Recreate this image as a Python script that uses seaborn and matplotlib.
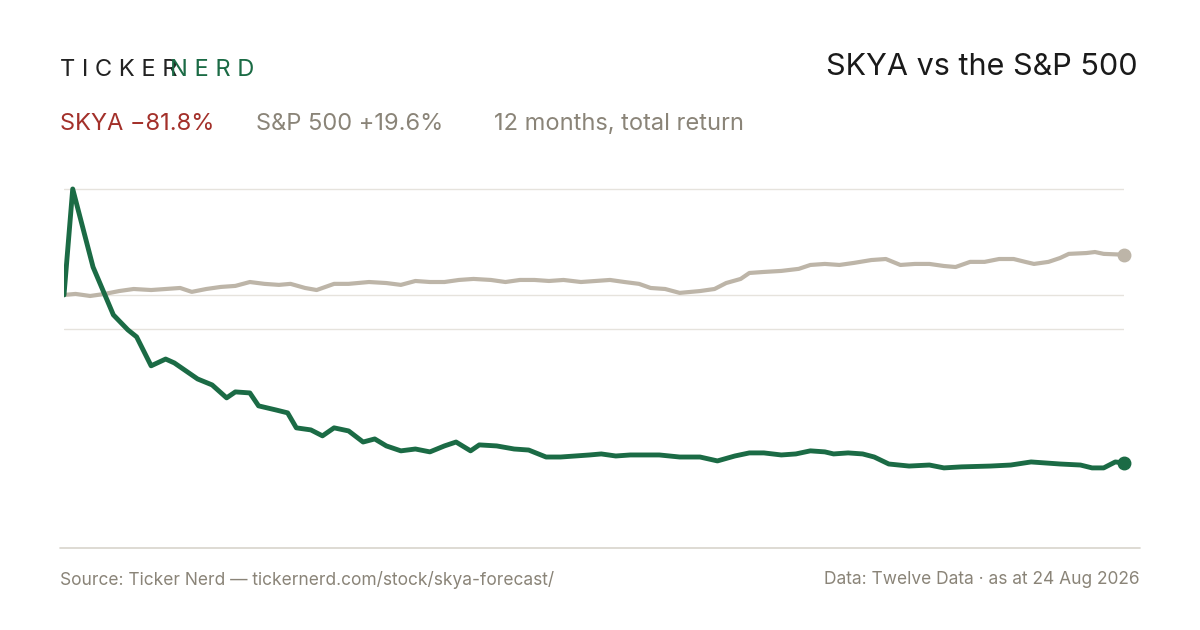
import matplotlib
matplotlib.use("Agg")
import matplotlib.pyplot as plt
import seaborn as sns
import pandas as pd
from matplotlib.lines import Line2D

sns.set_theme(style="white")
plt.rcParams['font.family'] = ['Inter', 'DejaVu Sans']

skya_day = [0,3,10,17,22,25,30,35,38,42,46,51,56,59,64,67,73,77,80,85,89,93,98,103,107,111,116,121,126,131,
            135,140,143,149,155,160,166,171,176,181,185,190,195,200,205,212,219,225,231,236,241,247,252,257,262,265,270,275,279,284,
            291,298,303,309,319,326,333,338,343,350,354,358,362,365]
skya_pct = [0,51.6,13.6,-9.7,-17.0,-20.4,-34.5,-31.2,-33.1,-37.0,-40.9,-43.8,-50.1,-47.2,-47.7,-54.0,-56.0,-57.4,-64.7,-65.7,
            -68.6,-64.7,-66.2,-71.6,-70.1,-73.5,-75.9,-75.0,-76.4,-73.5,-71.6,-75.9,-73.0,-73.5,-75.0,-75.5,-78.9,-78.9,-78.4,-77.9,
            -77.4,-78.4,-77.9,-77.9,-77.9,-78.9,-78.9,-80.8,-78.4,-76.9,-76.9,-77.9,-77.4,-75.9,-76.4,-77.4,-76.9,-77.4,-78.9,-82.3,
            -83.3,-82.8,-84.2,-83.7,-83.3,-82.8,-81.3,-81.8,-82.3,-82.8,-84.2,-84.2,-81.3,-81.8]
spx_day = [0,4,9,14,19,24,30,35,40,44,49,54,59,64,69,74,78,83,87,93,98,105,111,116,121,126,131,136,141,147,
           152,157,162,167,172,178,183,188,193,198,202,207,212,219,224,228,233,236,241,247,253,257,262,267,272,278,283,288,293,298,
           303,307,312,317,322,327,331,334,339,343,346,352,355,358,365]
spx_pct = [0,.5,-.5,.5,1.9,2.9,2.4,2.9,3.4,1.5,2.9,3.9,4.4,6.3,5.4,4.9,5.4,3.4,2.4,5.4,5.4,6.3,5.8,4.9,6.8,6.3,6.3,7.3,7.8,7.3,
           6.3,7.3,7.3,6.8,7.3,6.3,6.8,7.3,6.3,5.4,3.4,2.9,1.0,1.9,2.9,5.8,7.8,10.7,11.2,11.7,12.7,14.6,15.1,14.6,15.6,17.0,17.5,14.6,15.1,15.1,
           14.1,13.6,16.1,16.1,17.5,17.5,16.1,15.1,16.1,18.0,20.0,20.4,20.9,20.0,19.6]
grid_vals = [51.6, 0, -16.6]

GREEN = "#1b6b45"; RED = "#a3302a"; GREY = "#bdb5a8"; TXT = "#8a8478"

fig = plt.figure(figsize=(12, 6.3), dpi=100)
ax = fig.add_axes([64/1200, 1-540/630, 1060/1200, 380/630])
ax.set_xlim(0, 365)
ax.set_ylim(-119.3, 65.7)
for g in grid_vals:
    ax.axhline(g, color="#e6e3dd", lw=1, zorder=0)
sns.lineplot(x=spx_day, y=spx_pct, ax=ax, color=GREY, lw=3, zorder=2)
sns.lineplot(x=skya_day, y=skya_pct, ax=ax, color=GREEN, lw=3.5, zorder=3)
ax.plot(spx_day[-1], spx_pct[-1], 'o', color=GREY, ms=9, zorder=4, clip_on=False)
ax.plot(skya_day[-1], skya_pct[-1], 'o', color=GREEN, ms=9, zorder=4, clip_on=False)
ax.axis("off")

fig.add_artist(Line2D([60/1200, 1140/1200], [1-548/630]*2, color="#d8d4cc", lw=1.2))

fig.text(60/1200, 1-70/630, "T I C K E R", fontsize=17, color="#222", va="center")
fig.text(170/1200, 1-70/630, "N E R D", fontsize=17, color=GREEN, va="center")
fig.text(1138/1200, 1-67/630, "SKYA vs the S&P 500", fontsize=22, color="#1a1a1a", ha="right", va="center")
fig.text(60/1200, 1-124/630, "SKYA \u221281.8%", fontsize=17, color=RED, va="center")
fig.text(256/1200, 1-124/630, "S&P 500 +19.6%", fontsize=17, color=TXT, va="center")
fig.text(494/1200, 1-124/630, "12 months, total return", fontsize=17, color=TXT, va="center")
fig.text(60/1200, 1-580/630, "Source: Ticker Nerd \u2014 tickernerd.com/stock/skya-forecast/", fontsize=12.5, color=TXT, va="center")
fig.text(1140/1200, 1-580/630, "Data: Twelve Data \u00b7 as at 24 Aug 2026", fontsize=12.5, color=TXT, va="center", ha="right")

fig.savefig("out.png", dpi=100, facecolor="white")
